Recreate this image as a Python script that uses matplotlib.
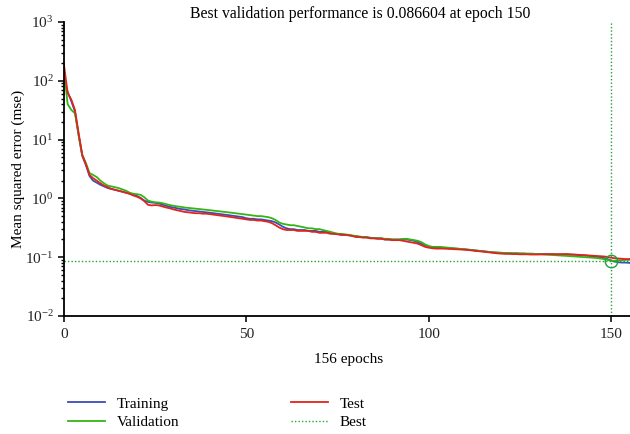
import numpy as np
import matplotlib
matplotlib.use("Agg")
import matplotlib.pyplot as plt
from matplotlib.ticker import LogLocator, LogFormatterSciNotation, NullFormatter

plt.rcParams['font.family'] = ['Liberation Serif', 'DejaVu Serif']
plt.rcParams['mathtext.fontset'] = 'custom'
plt.rcParams['mathtext.rm'] = 'Liberation Serif'
plt.rcParams['mathtext.it'] = 'Liberation Serif:italic'
plt.rcParams['axes.unicode_minus'] = True

# mse per epoch (epochs 0..156)
training = [
    110, 65, 45, 30, 12, 5.3, 3.7, 2.4, 2.0, 1.85,
    1.7, 1.6, 1.5, 1.45, 1.4, 1.35, 1.3, 1.25, 1.2, 1.15,
    1.1, 1.02, 0.92, 0.87, 0.85, 0.84, 0.82, 0.78, 0.75, 0.72,
    0.70, 0.68, 0.66, 0.65, 0.63, 0.62, 0.61, 0.60, 0.59, 0.58,
    0.57, 0.56, 0.55, 0.54, 0.53, 0.52, 0.51, 0.50, 0.49, 0.48,
    0.46, 0.45, 0.45, 0.44, 0.44, 0.43, 0.42, 0.41, 0.39, 0.36,
    0.33, 0.31, 0.30, 0.30, 0.29, 0.29, 0.29, 0.28, 0.28, 0.28,
    0.27, 0.27, 0.27, 0.26, 0.25, 0.25, 0.24, 0.24, 0.24, 0.23,
    0.23, 0.22, 0.22, 0.22, 0.21, 0.21, 0.21, 0.21, 0.20, 0.20,
    0.20, 0.20, 0.20, 0.20, 0.20, 0.195, 0.19, 0.18, 0.17, 0.16,
    0.152, 0.148, 0.146, 0.145, 0.144, 0.143, 0.142, 0.140, 0.139, 0.137,
    0.136, 0.134, 0.132, 0.130, 0.128, 0.126, 0.124, 0.122, 0.120, 0.119,
    0.118, 0.117, 0.117, 0.116, 0.116, 0.115, 0.115, 0.114, 0.114, 0.114,
    0.113, 0.113, 0.113, 0.112, 0.112, 0.112, 0.112, 0.111, 0.111, 0.110,
    0.110, 0.109, 0.108, 0.107, 0.105, 0.104, 0.102, 0.100, 0.097, 0.093,
    0.088, 0.084, 0.082, 0.081, 0.081, 0.080, 0.080,
]
validation = [
    150, 40, 32, 28, 12, 5.5, 4.0, 2.7, 2.5, 2.3,
    2.0, 1.8, 1.65, 1.6, 1.55, 1.5, 1.42, 1.35, 1.25, 1.2,
    1.18, 1.15, 1.05, 0.92, 0.88, 0.86, 0.85, 0.83, 0.80, 0.77,
    0.75, 0.73, 0.72, 0.70, 0.69, 0.68, 0.67, 0.66, 0.65, 0.64,
    0.63, 0.62, 0.61, 0.60, 0.59, 0.58, 0.57, 0.56, 0.55, 0.54,
    0.53, 0.52, 0.51, 0.50, 0.50, 0.49, 0.48, 0.46, 0.43, 0.39,
    0.37, 0.36, 0.35, 0.35, 0.34, 0.33, 0.32, 0.31, 0.31, 0.30,
    0.30, 0.29, 0.28, 0.27, 0.26, 0.25, 0.25, 0.245, 0.24, 0.235,
    0.23, 0.225, 0.22, 0.22, 0.215, 0.21, 0.21, 0.21, 0.205, 0.205,
    0.20, 0.20, 0.20, 0.205, 0.205, 0.20, 0.195, 0.19, 0.18, 0.165,
    0.155, 0.15, 0.15, 0.15, 0.148, 0.146, 0.144, 0.142, 0.140, 0.138,
    0.136, 0.134, 0.132, 0.130, 0.128, 0.126, 0.124, 0.122, 0.121, 0.120,
    0.119, 0.118, 0.118, 0.117, 0.117, 0.116, 0.116, 0.115, 0.115, 0.114,
    0.113, 0.112, 0.111, 0.110, 0.109, 0.108, 0.107, 0.106, 0.105, 0.104,
    0.103, 0.102, 0.101, 0.100, 0.099, 0.098, 0.097, 0.095, 0.093, 0.090,
    0.086604, 0.087, 0.088, 0.089, 0.090, 0.090, 0.090,
]
test = [
    185, 62, 48, 32, 13, 5.5, 3.8, 2.5, 2.2, 2.0,
    1.8, 1.65, 1.55, 1.45, 1.4, 1.35, 1.3, 1.25, 1.2, 1.12,
    1.07, 1.0, 0.90, 0.78, 0.76, 0.77, 0.76, 0.73, 0.70, 0.68,
    0.65, 0.63, 0.61, 0.59, 0.58, 0.57, 0.56, 0.56, 0.55, 0.55,
    0.54, 0.53, 0.52, 0.51, 0.50, 0.49, 0.48, 0.47, 0.46, 0.45,
    0.44, 0.43, 0.43, 0.42, 0.42, 0.41, 0.40, 0.38, 0.35, 0.32,
    0.30, 0.29, 0.29, 0.29, 0.28, 0.28, 0.28, 0.28, 0.27, 0.27,
    0.26, 0.26, 0.26, 0.25, 0.25, 0.245, 0.24, 0.24, 0.235, 0.23,
    0.22, 0.22, 0.215, 0.215, 0.21, 0.21, 0.205, 0.205, 0.20, 0.20,
    0.195, 0.195, 0.195, 0.19, 0.185, 0.18, 0.175, 0.17, 0.16, 0.15,
    0.145, 0.142, 0.140, 0.140, 0.140, 0.139, 0.138, 0.137, 0.136, 0.135,
    0.134, 0.132, 0.130, 0.128, 0.126, 0.124, 0.122, 0.120, 0.118, 0.116,
    0.115, 0.114, 0.114, 0.113, 0.113, 0.112, 0.112, 0.112, 0.111, 0.111,
    0.111, 0.112, 0.112, 0.113, 0.113, 0.112, 0.112, 0.113, 0.113, 0.112,
    0.111, 0.110, 0.109, 0.108, 0.107, 0.106, 0.105, 0.104, 0.103, 0.101,
    0.098, 0.096, 0.095, 0.094, 0.093, 0.093, 0.093,
]
best_epoch = 150
best_perf = 0.086604
n_epochs = 156

epochs = np.arange(len(training))

c_train = '#3c4cbc'
c_val = '#33b514'
c_test = '#e0241c'
c_best = '#22a03a'

fig = plt.figure(figsize=(6.3, 4.34), dpi=100)
ax = fig.add_axes([64 / 630, 118 / 434, 569 / 630, 294 / 434])

ax.plot(epochs, training, color=c_train, lw=1.3, label='Training')
ax.plot(epochs, validation, color=c_val, lw=1.3, label='Validation')
ax.plot(epochs, test, color=c_test, lw=1.3, label='Test')
ax.axhline(best_perf, color=c_best, lw=1.0, ls=(0, (1, 1.5)), label='Best')
ax.axvline(best_epoch, color=c_best, lw=1.0, ls=(0, (1, 1.5)))
ax.plot([best_epoch], [best_perf], 'o', mfc='none', mec=c_best, ms=9, mew=1.0)

ax.set_yscale('log')
ax.set_ylim(1e-2, 1e3)
ax.set_xlim(0, n_epochs)
ax.set_xticks([0, 50, 100, 150])
ax.yaxis.set_major_locator(LogLocator(base=10, numticks=10))
ax.yaxis.set_major_formatter(LogFormatterSciNotation())
ax.yaxis.set_minor_locator(LogLocator(base=10, subs=np.arange(2, 10), numticks=20))
ax.yaxis.set_minor_formatter(NullFormatter())

for s in ['top', 'right']:
    ax.spines[s].set_visible(False)
for s in ['left', 'bottom']:
    ax.spines[s].set_linewidth(1.3)
ax.tick_params(which='major', direction='out', length=4, width=1.3, labelsize=11, colors='#222222')
ax.tick_params(axis='x', which='major', pad=5)
ax.tick_params(which='minor', direction='out', length=2.5, width=1.0)

ax.set_title('Best validation performance is 0.086604 at epoch 150', fontsize=11.3, x=0.52, pad=3)
ax.set_xlabel('156 epochs', fontsize=11, labelpad=8)
ax.set_ylabel('Mean squared error (mse)', fontsize=11, labelpad=0)

fig.legend(loc='upper left', bbox_to_anchor=(68 / 630, 1 - 397 / 434), ncol=2,
           frameon=False, fontsize=11, handlelength=2.4, handletextpad=0.8,
           columnspacing=7.3, labelspacing=0.3, borderpad=0, borderaxespad=0)

fig.savefig('out.png', dpi=100)
